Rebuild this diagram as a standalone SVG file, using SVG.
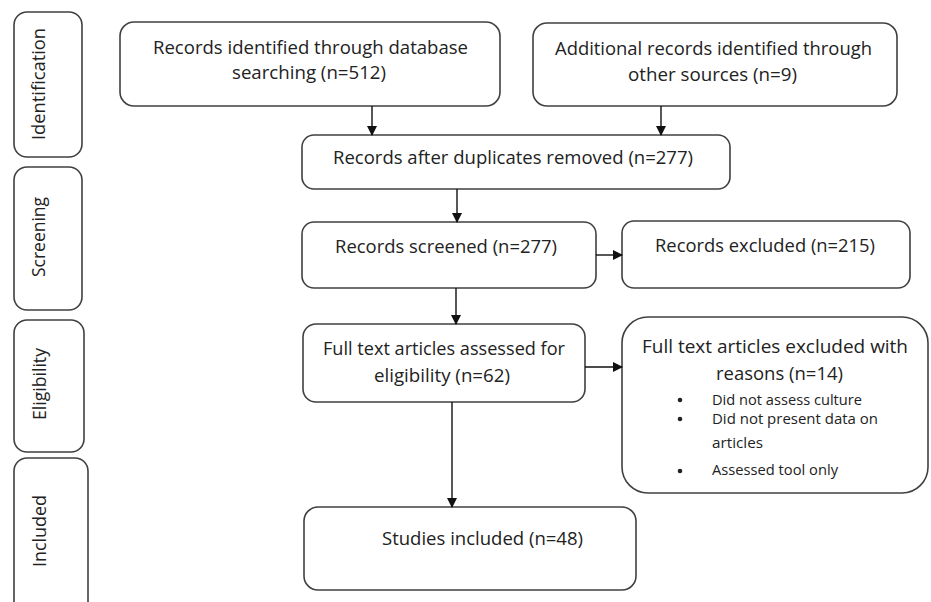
<svg xmlns="http://www.w3.org/2000/svg" width="931" height="602" viewBox="0 0 931 602">
<defs>
<style>
.box{fill:#fff;stroke:#404040;stroke-width:1.6}
.t{font-family:"Open Sans","Liberation Sans",Arial,sans-serif;font-size:17.5px;fill:#222}
.s{font-family:"Open Sans","Liberation Sans",Arial,sans-serif;font-size:14px;fill:#222}
.c{stroke:#111;stroke-width:1.4;fill:none;marker-end:url(#ah)}
</style>
<marker id="ah" markerWidth="10" markerHeight="10" refX="9" refY="5" orient="auto" markerUnits="userSpaceOnUse">
<path d="M0,0 L10,5 L0,10 Z" fill="#111"/>
</marker>
</defs>
<rect width="931" height="602" fill="#fff"/>
<g id="stage-identification">
<rect class="box" x="14" y="12" width="68" height="145" rx="13"/>
<text class="t" transform="translate(45,140) rotate(-90)" textLength="112" lengthAdjust="spacingAndGlyphs">Identification</text>
</g>
<g id="stage-screening">
<rect class="box" x="14" y="167" width="68" height="143" rx="13"/>
<text class="t" transform="translate(45,277) rotate(-90)" textLength="80" lengthAdjust="spacingAndGlyphs">Screening</text>
</g>
<g id="stage-eligibility">
<rect class="box" x="14" y="320" width="70" height="132" rx="13"/>
<text class="t" transform="translate(46,420) rotate(-90)" textLength="72" lengthAdjust="spacingAndGlyphs">Eligibility</text>
</g>
<g id="stage-included">
<rect class="box" x="14" y="458" width="74" height="160" rx="13"/>
<text class="t" transform="translate(46,567) rotate(-90)" textLength="72" lengthAdjust="spacingAndGlyphs">Included</text>
</g>
<g id="n-database">
<rect class="box" x="120" y="22" width="380" height="84" rx="14"/>
<text class="t" x="153" y="54" textLength="315" lengthAdjust="spacingAndGlyphs">Records identified through database</text>
<text class="t" x="232" y="79" textLength="154" lengthAdjust="spacingAndGlyphs">searching (n=512)</text>
</g>
<g id="n-other">
<rect class="box" x="533" y="23" width="364" height="83" rx="14"/>
<text class="t" x="555" y="55" textLength="317" lengthAdjust="spacingAndGlyphs">Additional records identified through</text>
<text class="t" x="628" y="81" textLength="169" lengthAdjust="spacingAndGlyphs">other sources (n=9)</text>
</g>
<g id="n-duplicates">
<rect class="box" x="302" y="135" width="428" height="54" rx="12"/>
<text class="t" x="333" y="164" textLength="360" lengthAdjust="spacingAndGlyphs">Records after duplicates removed (n=277)</text>
</g>
<g id="n-screened">
<rect class="box" x="302" y="222" width="294" height="66" rx="12"/>
<text class="t" x="335" y="253" textLength="222" lengthAdjust="spacingAndGlyphs">Records screened (n=277)</text>
</g>
<g id="n-excluded">
<rect class="box" x="622" y="221" width="288" height="67" rx="12"/>
<text class="t" x="655" y="252" textLength="220" lengthAdjust="spacingAndGlyphs">Records excluded (n=215)</text>
</g>
<g id="n-fulltext">
<rect class="box" x="303" y="324" width="282" height="78" rx="13"/>
<text class="t" x="323" y="355" textLength="242" lengthAdjust="spacingAndGlyphs">Full text articles assessed for</text>
<text class="t" x="374" y="382" textLength="136" lengthAdjust="spacingAndGlyphs">eligibility (n=62)</text>
</g>
<g id="n-fulltext-excluded">
<rect class="box" x="622" y="317" width="306" height="176" rx="26"/>
<text class="t" x="642" y="353" textLength="266" lengthAdjust="spacingAndGlyphs">Full text articles excluded with</text>
<text class="t" x="716" y="380" textLength="127" lengthAdjust="spacingAndGlyphs">reasons (n=14)</text>
<circle cx="680" cy="400" r="2.3" fill="#222"/>
<text class="s" x="712" y="405" textLength="150" lengthAdjust="spacingAndGlyphs">Did not assess culture</text>
<circle cx="680" cy="419" r="2.3" fill="#222"/>
<text class="s" x="712" y="424" textLength="166" lengthAdjust="spacingAndGlyphs">Did not present data on</text>
<text class="s" x="712" y="448" textLength="51" lengthAdjust="spacingAndGlyphs">articles</text>
<circle cx="680" cy="471" r="2.3" fill="#222"/>
<text class="s" x="712" y="475" textLength="126" lengthAdjust="spacingAndGlyphs">Assessed tool only</text>
</g>
<g id="n-studies">
<rect class="box" x="304" y="507" width="332" height="83" rx="14"/>
<text class="t" x="382" y="545" textLength="201" lengthAdjust="spacingAndGlyphs">Studies included (n=48)</text>
</g>
<g id="connectors">
<path class="c" d="M372,106 V135"/>
<path class="c" d="M661,106 V135"/>
<path class="c" d="M457,189 V222"/>
<path class="c" d="M596,255 H622"/>
<path class="c" d="M456,288 V324"/>
<path class="c" d="M585,367 H622"/>
<path class="c" d="M452,402 V507"/>
</g>
</svg>
